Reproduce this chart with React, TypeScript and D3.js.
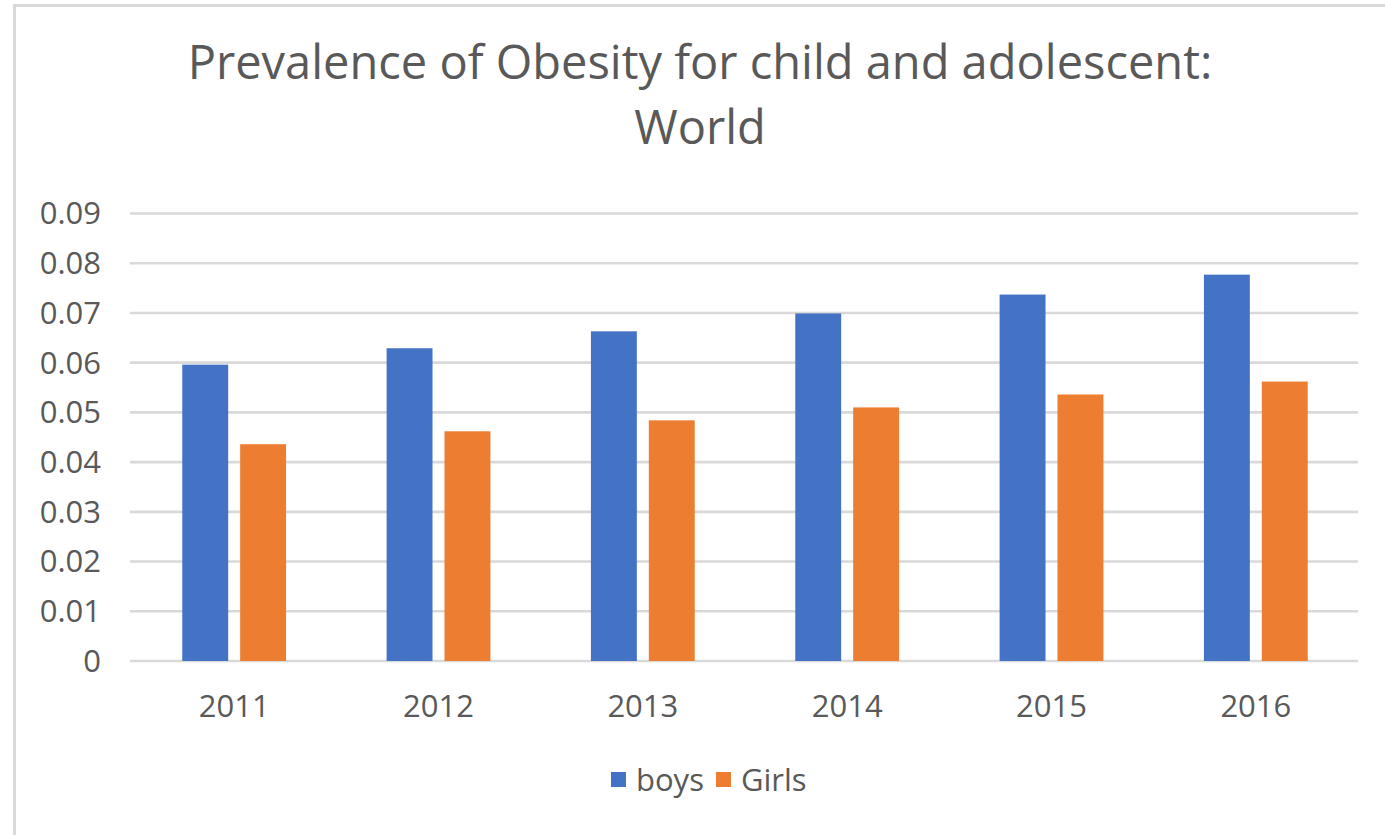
import React from "react";
import * as d3 from "d3";

// Prevalence of obesity (share of population), ages 5-19, world
const years = ["2011", "2012", "2013", "2014", "2015", "2016"];
const boys = [0.0596, 0.0629, 0.0663, 0.0699, 0.0737, 0.0777];
const girls = [0.0436, 0.0462, 0.0484, 0.051, 0.0536, 0.0562];
const seriesNames = ["boys", "Girls"];
const seriesColors = ["#4472C4", "#ED7D31"];
const yTicks = [0, 0.01, 0.02, 0.03, 0.04, 0.05, 0.06, 0.07, 0.08, 0.09];
const titleLines = ["Prevalence of Obesity for child and adolescent:", "World"];

const W = 1385;
const H = 835;
const FONT = "'Open Sans', sans-serif";
const TEXT = "#595959";
const GRID = "#d9d9d9";

export default function App() {
  const x = d3.scaleBand<string>().domain(years).range([132, 1358]).paddingInner(0.492).paddingOuter(0.246);
  const xSub = d3.scaleBand<string>().domain(seriesNames).range([0, x.bandwidth()]).paddingInner(0.207);
  const y = d3.scaleLinear().domain([0, 0.09]).range([661, 213.5]);
  const fmt = (v: number) => (v === 0 ? "0" : d3.format(".2f")(v));
  const series = [boys, girls];

  return (
    <svg
      width={W}
      height={H}
      style={{ position: "absolute", left: 0, top: 0, background: "#fff" }}
      fontFamily={FONT}
    >
      {/* chart frame */}
      <rect x={14.5} y={5.5} width={W + 20} height={H + 20} fill="#fff" stroke={GRID} strokeWidth={3} />

      {/* title */}
      {titleLines.map((t, i) => (
        <text key={t} x={700} y={79 + i * 65} textAnchor="middle" fontSize={47} fill={TEXT}>
          {t}
        </text>
      ))}

      {/* gridlines */}
      {yTicks.map((t) => (
        <line key={t} x1={130} x2={1358} y1={y(t)} y2={y(t)} stroke={GRID} strokeWidth={2.6} />
      ))}

      {/* y tick labels */}
      {yTicks.map((t) => (
        <text key={t} x={101} y={y(t)} dy="0.35em" textAnchor="end" fontSize={31} fill={TEXT}>
          {fmt(t)}
        </text>
      ))}

      {/* bars */}
      {years.map((yr, i) => (
        <g key={yr} transform={`translate(${x(yr)},0)`}>
          {series.map((s, j) => (
            <rect
              key={seriesNames[j]}
              x={xSub(seriesNames[j])}
              y={y(s[i])}
              width={xSub.bandwidth()}
              height={y(0) - y(s[i])}
              fill={seriesColors[j]}
            />
          ))}
        </g>
      ))}

      {/* x tick labels */}
      {years.map((yr) => (
        <text key={yr} x={(x(yr) as number) + x.bandwidth() / 2} y={717} textAnchor="middle" fontSize={31} fill={TEXT}>
          {yr}
        </text>
      ))}

      {/* legend */}
      {seriesNames.map((n, j) => {
        const lx = j === 0 ? 611 : 716;
        return (
          <g key={n}>
            <rect x={lx} y={772} width={15} height={15} fill={seriesColors[j]} />
            <text x={lx + 25} y={791} fontSize={31} fill={TEXT}>
              {n}
            </text>
          </g>
        );
      })}
    </svg>
  );
}
